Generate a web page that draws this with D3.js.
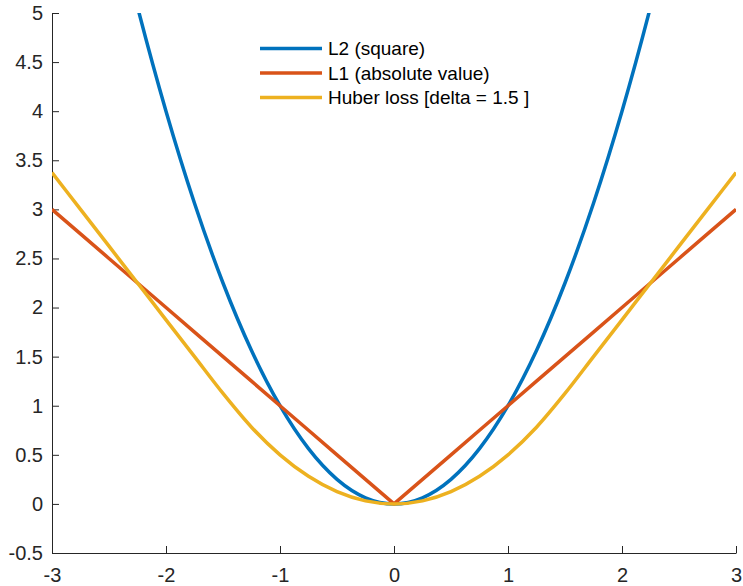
<!DOCTYPE html>
<html>
<head>
<meta charset="utf-8">
<script src="https://cdn.jsdelivr.net/npm/d3@7"></script>
<style>
  body { margin: 0; background: #fff; }
  text { font-family: "Liberation Sans", Arial, sans-serif; }
</style>
</head>
<body>
<div id="chart"></div>
<script>
// values (x step 0.25)
var xs = [-3, -2.75, -2.5, -2.25, -2, -1.75, -1.5, -1.25, -1, -0.75, -0.5, -0.25, 0,
          0.25, 0.5, 0.75, 1, 1.25, 1.5, 1.75, 2, 2.25, 2.5, 2.75, 3];
var l2 = [9, 7.5625, 6.25, 5.0625, 4, 3.0625, 2.25, 1.5625, 1, 0.5625, 0.25, 0.0625, 0,
          0.0625, 0.25, 0.5625, 1, 1.5625, 2.25, 3.0625, 4, 5.0625, 6.25, 7.5625, 9];
var l1 = [3, 2.75, 2.5, 2.25, 2, 1.75, 1.5, 1.25, 1, 0.75, 0.5, 0.25, 0,
          0.25, 0.5, 0.75, 1, 1.25, 1.5, 1.75, 2, 2.25, 2.5, 2.75, 3];
var huber = [3.375, 3, 2.625, 2.25, 1.875, 1.5, 1.125, 0.78125, 0.5, 0.28125, 0.125, 0.03125, 0,
             0.03125, 0.125, 0.28125, 0.5, 0.78125, 1.125, 1.5, 1.875, 2.25, 2.625, 3, 3.375];
var seriesNames = ["L2 (square)", "L1 (absolute value)", "Huber loss [delta = 1.5 ]"];
var xTicks = [-3, -2, -1, 0, 1, 2, 3];
var yTicks = [-0.5, 0, 0.5, 1, 1.5, 2, 2.5, 3, 3.5, 4, 4.5, 5];

(function() {
  var width = 743;
  var height = 586;
  var plotLeft = 52, plotRight = 736, plotTop = 13, plotBottom = 553;
  var axisColor = "#262626";

  var svg = d3.select("#chart")
    .append("svg")
    .attr("width", width)
    .attr("height", height);

  var xScale = d3.scaleLinear().domain([-3, 3]).range([plotLeft, plotRight]);
  var yScale = d3.scaleLinear().domain([-0.5, 5]).range([plotBottom, plotTop]);

  svg.append("clipPath")
    .attr("id", "plotClip")
    .append("rect")
    .attr("x", plotLeft)
    .attr("y", plotTop)
    .attr("width", plotRight - plotLeft)
    .attr("height", plotBottom - plotTop);

  // axes, ticks pointing inward, plain hyphen minus
  var xAxis = d3.axisBottom(xScale)
    .tickValues(xTicks)
    .tickFormat(function(d) { return String(d); })
    .tickSizeInner(-7)
    .tickSizeOuter(0)
    .tickPadding(15);
  var yAxis = d3.axisLeft(yScale)
    .tickValues(yTicks)
    .tickFormat(function(d) { return String(d); })
    .tickSizeInner(-7)
    .tickSizeOuter(0)
    .tickPadding(9);

  var gx = svg.append("g")
    .attr("transform", "translate(0," + plotBottom + ")")
    .call(xAxis);
  var gy = svg.append("g")
    .attr("transform", "translate(" + plotLeft + ",0)")
    .call(yAxis);

  [gx, gy].forEach(function(g) {
    g.select(".domain").attr("stroke", axisColor).attr("stroke-width", 1);
    g.selectAll(".tick line").attr("stroke", axisColor).attr("stroke-width", 1);
    g.selectAll(".tick text")
      .attr("fill", axisColor)
      .attr("font-size", 20)
      .attr("font-family", "Liberation Sans, Arial, sans-serif");
  });

  // curves
  var colors = ["#0072BD", "#D95319", "#EDB120"];
  var allSeries = [l2, l1, huber];
  var curves = [d3.curveMonotoneX, d3.curveLinear, d3.curveMonotoneX];

  var plot = svg.append("g").attr("clip-path", "url(#plotClip)");

  allSeries.forEach(function(vals, i) {
    var line = d3.line()
      .x(function(d, j) { return xScale(xs[j]); })
      .y(function(d) { return yScale(d); })
      .curve(curves[i]);
    plot.append("path")
      .datum(vals)
      .attr("fill", "none")
      .attr("stroke", colors[i])
      .attr("stroke-width", 3.5)
      .attr("stroke-linejoin", "round")
      .attr("d", line);
  });

  // legend (no box)
  var legend = svg.append("g").attr("transform", "translate(260,48.5)");
  seriesNames.forEach(function(name, i) {
    var row = legend.append("g").attr("transform", "translate(0," + (i * 24.5) + ")");
    row.append("line")
      .attr("x1", 0).attr("x2", 62)
      .attr("y1", 0).attr("y2", 0)
      .attr("stroke", colors[i])
      .attr("stroke-width", 3.5);
    row.append("text")
      .attr("x", 68)
      .attr("y", 0)
      .attr("dy", "0.35em")
      .attr("font-size", 19)
      .attr("fill", "#000")
      .text(name);
  });
})();
</script>
</body>
</html>
